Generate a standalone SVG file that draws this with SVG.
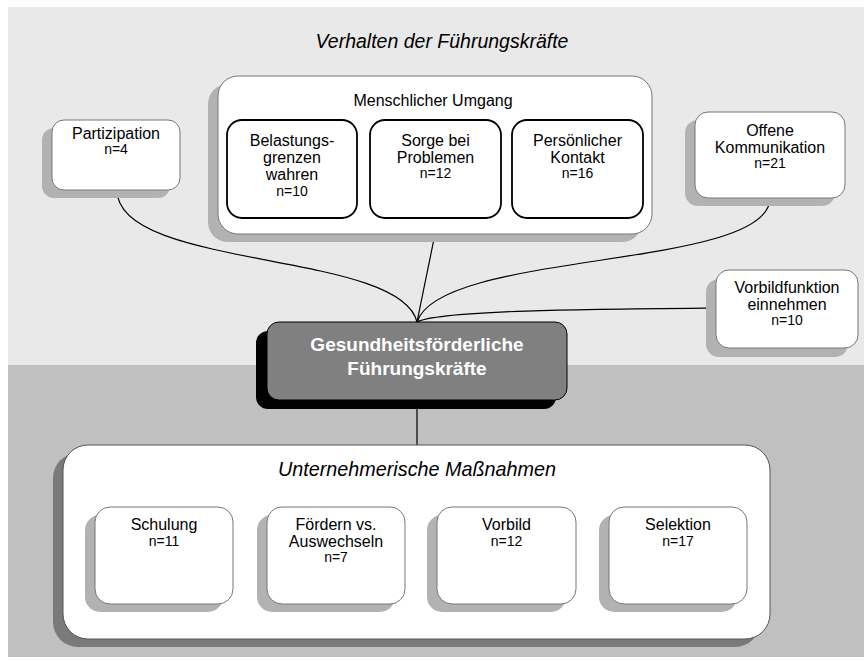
<svg xmlns="http://www.w3.org/2000/svg" width="864" height="661" viewBox="0 0 864 661">
<style>
.t{font-family:"Liberation Sans",Arial,sans-serif;font-size:16px;fill:#000;text-anchor:middle}
.n{font-family:"Liberation Sans",Arial,sans-serif;font-size:14px;fill:#000;text-anchor:middle}
.it{font-family:"Liberation Sans",Arial,sans-serif;font-style:italic;font-size:19.8px;fill:#000;text-anchor:middle}
.ctr{font-family:"Liberation Sans",Arial,sans-serif;font-weight:bold;font-size:19px;fill:#fff;text-anchor:middle}
.sh{fill:#b2b2b2}
.box{fill:#fff;stroke:#777;stroke-width:1}
.inner{fill:#fff;stroke:#000;stroke-width:1.8}
.con{fill:none;stroke:#000;stroke-width:1.2}
</style>
<rect x="8" y="7" width="856" height="358" fill="#e9e9e9"/>
<rect x="8" y="365" width="856" height="292" fill="#c0c0c0"/>
<text class="it" x="442" y="48" style="font-size:19.5px">Verhalten der Führungskräfte</text>

<g id="connectors">
<path class="con" d="M117,190 C117,270 400,250 417,322"/>
<path class="con" d="M435,234 L417,322"/>
<path class="con" d="M770,198 C770,270 440,250 417,322"/>
<path class="con" d="M417,322 C440,310 600,309 716,308"/>
<path class="con" d="M417,409 L417,445"/>
</g>

<g id="partizipation">
<rect class="sh" x="42" y="128" width="128" height="70" rx="12"/>
<rect class="box" x="52" y="120" width="128" height="70" rx="12"/>
<text class="t" x="116" y="139">Partizipation</text>
<text class="n" x="116" y="154">n=4</text>
</g>

<g id="menschlicher-umgang">
<rect class="sh" x="208" y="84" width="434" height="158" rx="20"/>
<rect class="box" x="218" y="76" width="434" height="158" rx="20"/>
<text class="t" x="433" y="106">Menschlicher Umgang</text>
</g>
<g id="belastungsgrenzen">
<rect class="inner" x="227" y="120" width="130" height="98" rx="15"/>
<text class="t" x="292" y="146">Belastungs-</text>
<text class="t" x="292" y="163">grenzen</text>
<text class="t" x="292" y="180">wahren</text>
<text class="n" x="292" y="196">n=10</text>
</g>
<g id="sorge">
<rect class="inner" x="370" y="120" width="131" height="98" rx="15"/>
<text class="t" x="435.5" y="146">Sorge bei</text>
<text class="t" x="435.5" y="163">Problemen</text>
<text class="n" x="435.5" y="178">n=12</text>
</g>
<g id="kontakt">
<rect class="inner" x="512" y="120" width="131" height="98" rx="15"/>
<text class="t" x="577.5" y="146">Persönlicher</text>
<text class="t" x="577.5" y="163">Kontakt</text>
<text class="n" x="577.5" y="178">n=16</text>
</g>

<g id="offene-kommunikation">
<rect class="sh" x="685" y="120" width="150" height="86" rx="13"/>
<rect class="box" x="695" y="112" width="150" height="86" rx="13"/>
<text class="t" x="770" y="136">Offene</text>
<text class="t" x="770" y="153">Kommunikation</text>
<text class="n" x="770" y="168">n=21</text>
</g>

<g id="vorbildfunktion">
<rect class="sh" x="706" y="279" width="142" height="78" rx="13"/>
<rect class="box" x="716" y="270" width="142" height="78" rx="13"/>
<text class="t" x="787" y="293">Vorbildfunktion</text>
<text class="t" x="787" y="310">einnehmen</text>
<text class="n" x="787" y="325">n=10</text>
</g>

<g id="zentrum">
<rect x="256" y="331" width="300" height="78" rx="12" fill="#000"/>
<rect x="267" y="322" width="300" height="78" rx="12" fill="#808080" stroke="#000" stroke-width="1"/>
<text class="ctr" x="417" y="351">Gesundheitsförderliche</text>
<text class="ctr" x="417" y="375">Führungskräfte</text>
</g>

<g id="unternehmerische-massnahmen">
<rect x="53" y="453" width="707" height="194" rx="25" fill="#7a7a7a"/>
<rect x="63" y="445" width="707" height="194" rx="25" fill="#fff" stroke="#555" stroke-width="1"/>
<text class="it" x="417" y="476">Unternehmerische Maßnahmen</text>
</g>

<g id="schulung">
<rect class="sh" x="85" y="515" width="138" height="97" rx="15"/>
<rect class="box" x="95" y="507" width="138" height="97" rx="15"/>
<text class="t" x="164" y="530">Schulung</text>
<text class="n" x="164" y="546">n=11</text>
</g>
<g id="foerdern">
<rect class="sh" x="257" y="515" width="138" height="97" rx="15"/>
<rect class="box" x="267" y="507" width="138" height="97" rx="15"/>
<text class="t" x="336" y="530">Fördern vs.</text>
<text class="t" x="336" y="547">Auswechseln</text>
<text class="n" x="336" y="562">n=7</text>
</g>
<g id="vorbild">
<rect class="sh" x="427" y="515" width="139" height="97" rx="15"/>
<rect class="box" x="437" y="507" width="139" height="97" rx="15"/>
<text class="t" x="506.5" y="530">Vorbild</text>
<text class="n" x="506.5" y="546">n=12</text>
</g>
<g id="selektion">
<rect class="sh" x="599" y="515" width="138" height="97" rx="15"/>
<rect class="box" x="609" y="507" width="138" height="97" rx="15"/>
<text class="t" x="678" y="530">Selektion</text>
<text class="n" x="678" y="546">n=17</text>
</g>
</svg>
